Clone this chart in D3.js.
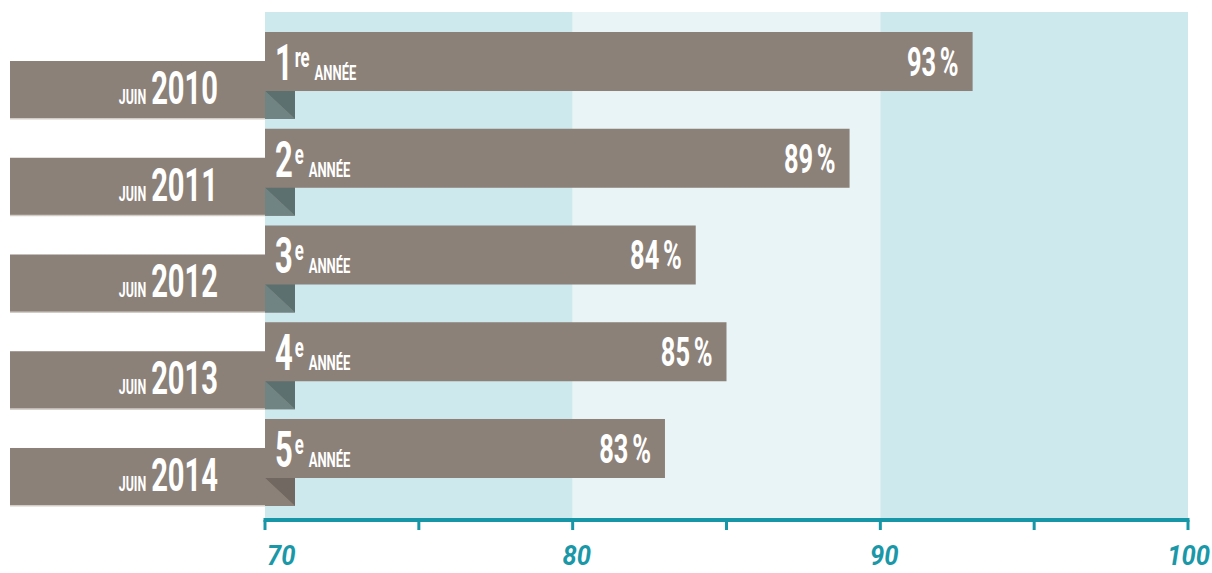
<!DOCTYPE html>
<html>
<head>
<meta charset="utf-8">
<script src="https://cdn.jsdelivr.net/npm/d3@7"></script>
<style>
  body { margin: 0; background: #fff; }
  text { font-family: Roboto, "Noto Sans", sans-serif; }
</style>
</head>
<body>
<div id="chart"></div>
<script>
const width = 1212
const height = 573

// data
const years = ["2010", "2011", "2012", "2013", "2014"]
const ranks = ["1", "2", "3", "4", "5"]
const suffixes = ["re", "e", "e", "e", "e"]
const values = [93, 89, 84, 85, 83]
const ticks = [70, 75, 80, 85, 90, 95, 100]
const tickLabels = [70, 80, 90, 100]
const bands = [[70, 80], [80, 90], [90, 100]]

const brown = "#8c8178"
const teal = "#1696a6"
const squeeze = 0.62   // condensed look

const svg = d3.select("div#chart").append("svg").attr("width", width).attr("height", height)

const x = d3.scaleLinear().domain([70, 100]).range([265, 1188])
const y = d3.scaleBand().domain(years).range([32, 478]).paddingInner(0.39)
const bh = y.bandwidth()

// background bands
svg.append("g").selectAll("rect").data(bands).enter()
    .append("rect")
    .attr("x", d => x(d[0]))
    .attr("width", d => x(d[1]) - x(d[0]))
    .attr("y", 12)
    .attr("height", 506)
    .attr("fill", (d, i) => i === 1 ? "#e8f4f6" : "#cde9ee")

// axis
const axisG = svg.append("g").attr("transform", "translate(0,520)")
axisG.append("line").attr("x1", x(70) - 1.5).attr("x2", x(100) + 1.5)
    .attr("stroke", teal).attr("stroke-width", 4)
axisG.selectAll("line.tick").data(ticks).enter()
    .append("line").attr("class", "tick")
    .attr("x1", d => x(d)).attr("x2", d => x(d))
    .attr("y1", 0).attr("y2", 10)
    .attr("stroke", teal).attr("stroke-width", 3)
const last = tickLabels.length - 1
axisG.selectAll("text").data(tickLabels).enter()
    .append("text")
    .attr("transform", (d, i) => {
        const tx = i === 0 ? x(d) + 2 : i === last ? width - 2 : x(d) + 4
        return `translate(${tx}, 45) scale(0.95,1)`
    })
    .attr("text-anchor", (d, i) => i === 0 ? "start" : i === last ? "end" : "middle")
    .attr("font-size", 27).attr("font-weight", "bold").attr("font-style", "italic")
    .attr("fill", "#1a98a8")
    .text(d => d)

const rows = svg.append("g").selectAll("g").data(years).enter()
    .append("g").attr("transform", d => `translate(0, ${y(d)})`)

// year labels
rows.append("rect").attr("x", 10).attr("y", 29).attr("width", 285).attr("height", 58).attr("fill", brown)
rows.append("rect").attr("x", 10).attr("y", 86).attr("width", 255).attr("height", 1.5).attr("fill", "#d2ccc6")

const yearText = rows.append("text")
    .attr("transform", `translate(218, 72) scale(${squeeze},1)`)
    .attr("text-anchor", "end").attr("fill", "#fff").attr("font-weight", "bold")
yearText.append("tspan").attr("font-size", 20).text("JUIN")
yearText.append("tspan").attr("font-size", 47).attr("dx", 8).text(d => d)

// bars
rows.append("rect")
    .attr("x", x(70))
    .attr("y", 0)
    .attr("height", bh)
    .attr("width", (d, i) => x(values[i]) - x(70))
    .attr("fill", brown)

// folds
rows.append("path")
    .attr("d", `M${x(70)},${bh}L${x(70) + 30},${bh}L${x(70) + 30},87Z`)
    .attr("fill", (d, i) => i === years.length - 1 ? "#726862" : "#5c716f")
rows.append("path")
    .attr("d", `M${x(70)},${bh}L${x(70) + 30},87L${x(70)},87Z`)
    .attr("fill", (d, i) => i === years.length - 1 ? brown : "#708583")

// rank labels
const rankText = rows.append("text")
    .attr("transform", `translate(275, 48) scale(${squeeze},1)`)
    .attr("fill", "#fff").attr("font-weight", "bold")
rankText.append("tspan").attr("font-size", 50).text((d, i) => ranks[i])
rankText.append("tspan").attr("font-size", 27).attr("dy", -13).attr("dx", 3).text((d, i) => suffixes[i])
rankText.append("tspan").attr("font-size", 21).attr("dy", 13).attr("dx", 8).text("ANNÉE")

// values
const valText = rows.append("text")
    .attr("transform", (d, i) => `translate(${x(values[i]) - 14}, 44) scale(${squeeze},1)`)
    .attr("text-anchor", "end").attr("fill", "#fff").attr("font-weight", "bold").attr("font-size", 41)
valText.append("tspan").text((d, i) => values[i])
valText.append("tspan").attr("dx", 6).text("%")
</script>
</body>
</html>
